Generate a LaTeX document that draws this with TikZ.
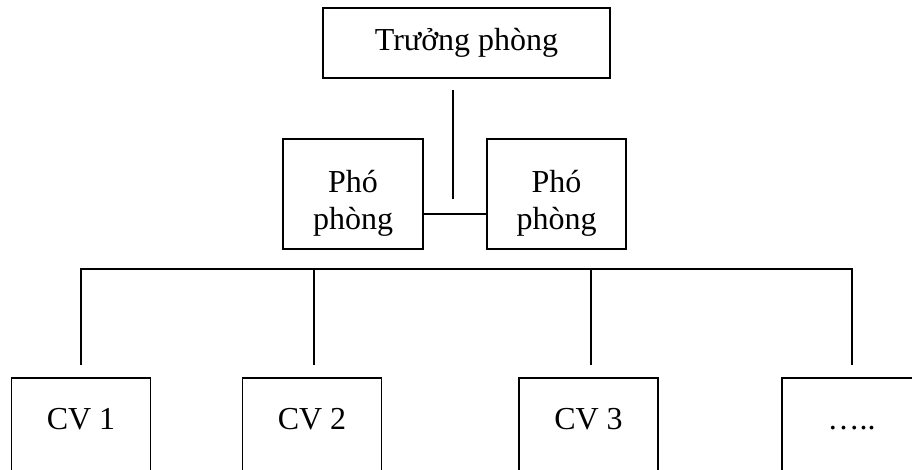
\documentclass[tikz,border=0pt]{standalone}
\usepackage{fontspec}
\setmainfont{Liberation Serif}
\usetikzlibrary{positioning,calc}

\begin{document}
\begin{tikzpicture}[x=1pt, y=-1pt, line width=1.5pt, every node/.style={draw, line width=1.5pt, rectangle, inner sep=0pt, font=\fontsize{32}{37}\selectfont}, headbox/.style={minimum width=287pt, minimum height=70pt}, deputybox/.style={minimum width=140pt, minimum height=110pt, align=center, text height=75pt, text depth=4pt}, staffbox/.style={anchor=north, minimum width=139pt, text height=52pt, text depth=90pt}]
    \clip (0,0) rectangle (912,470);

    % Head
    \node[headbox] (head) at (466.5, 43) {Trưởng phòng};
    \coordinate (stemtop) at (453, 90);
    \coordinate (stembot) at (453, 199);
    \draw (stemtop) -- (stembot);

    % Deputies
    \node[deputybox] (dep1) at (353, 194) {Phó\\phòng};
    \node[deputybox, minimum width=139pt] (dep2) at (556.5, 194) {Phó\\phòng};
    \coordinate (link) at (453, 214);
    \draw (dep1.east |- link) -- (dep2.west |- link);

    % Staff
    \node[staffbox] (cv1) at (81, 377) {CV 1};
    \node[staffbox] (cv2) at (312, 377) {CV 2};
    \node[staffbox] (cv3) at (588.5, 377) {CV 3};
    \node[staffbox] (cv4) at (851.5, 377) {\dots..};

    % Bus
    \coordinate (busl) at (81, 269);
    \coordinate (busr) at (852, 269);
    \draw (81, 365) -- (busl) -- (busr) -- (852, 365);
    \draw (314, 269) -- (314, 365);
    \draw (591, 269) -- (591, 365);

\end{tikzpicture}
\end{document}
